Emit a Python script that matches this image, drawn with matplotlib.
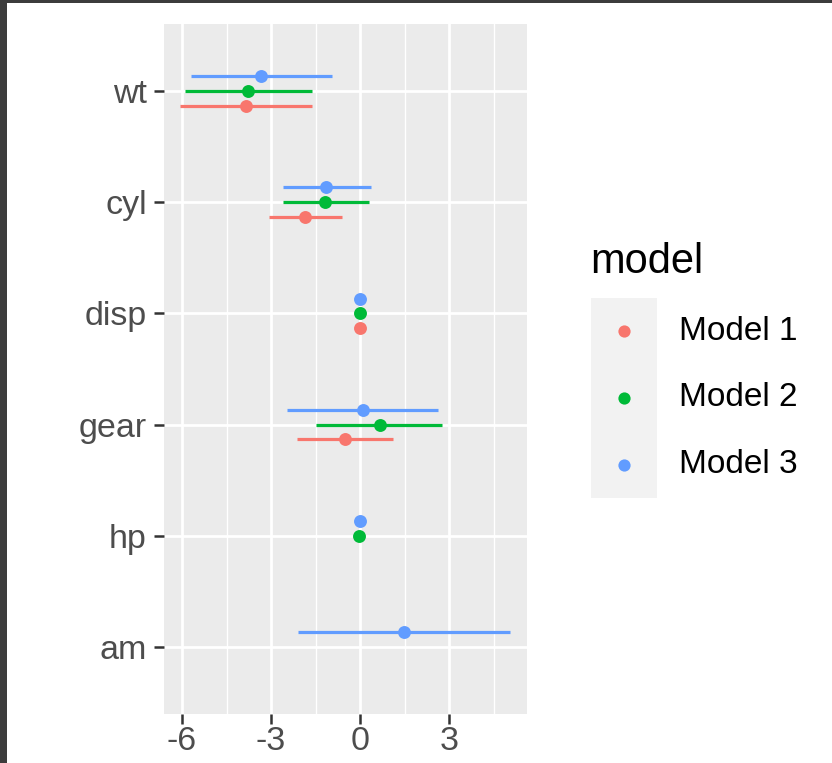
import numpy as np
import matplotlib
matplotlib.use("Agg")
import matplotlib.pyplot as plt
from matplotlib.patches import Rectangle

# ---- data ----
terms = ["wt", "cyl", "disp", "gear", "hp", "am"]
models = ["Model 1", "Model 2", "Model 3"]
colors = ["#F8766D", "#00BA38", "#619CFF"]

m1_est = [-3.85, -1.85, 0.005, -0.51, np.nan, np.nan]
m1_lo = [-6.05, -3.08, -0.01, -2.14, np.nan, np.nan]
m1_hi = [-1.63, -0.60, 0.02, 1.10, np.nan, np.nan]

m2_est = [-3.77, -1.20, 0.01, 0.67, -0.03, np.nan]
m2_lo = [-5.89, -2.61, -0.01, -1.48, -0.05, np.nan]
m2_hi = [-1.63, 0.31, 0.03, 2.77, -0.01, np.nan]

m3_est = [-3.35, -1.15, 0.01, 0.10, -0.02, 1.48]
m3_lo = [-5.70, -2.61, -0.01, -2.45, -0.04, -2.09]
m3_hi = [-0.94, 0.35, 0.03, 2.63, 0.00, 5.06]

ests = [m1_est, m2_est, m3_est]
los = [m1_lo, m2_lo, m3_lo]
his = [m1_hi, m2_hi, m3_hi]

plt.rcParams['font.family'] = ['Liberation Sans', 'DejaVu Sans']

W, H = 832, 763
fig = plt.figure(figsize=(W / 100, H / 100), dpi=100)

def fx(px):
    return px / W

def fy(py):
    return 1 - py / H

# panel
left, right, top, bottom = 164, 527, 24, 714
ax = fig.add_axes([fx(left), fy(bottom), fx(right) - fx(left), fy(top) - fy(bottom)])
ax.set_facecolor("#EBEBEB")
for s in ax.spines.values():
    s.set_visible(False)

n = len(terms)
ypos = np.arange(n)[::-1] + 1.0  # wt on top
offsets = [-0.133, 0.0, 0.133]

for k in range(3):
    e = np.array(ests[k], dtype=float)
    lo = np.array(los[k], dtype=float)
    hi = np.array(his[k], dtype=float)
    y = ypos + offsets[k]
    ok = ~np.isnan(e)
    ax.hlines(y[ok], lo[ok], hi[ok], color=colors[k], lw=2.3, zorder=3)
    ax.plot(e[ok], y[ok], 'o', color=colors[k], ms=9.3, mec='none', zorder=4)

xmin, xmax = -6.05, 5.06
pad = (xmax - xmin) * 0.05
ax.set_xlim(xmin - pad, xmax + pad)
ax.set_ylim(0.4, n + 0.6)

ax.set_xticks([-6, -3, 0, 3])
ax.set_xticklabels(["-6", "-3", "0", "3"])
ax.set_xticks([-4.5, -1.5, 1.5, 4.5], minor=True)
ax.set_yticks(ypos)
ax.set_yticklabels(terms)

ax.grid(True, which='major', color='white', lw=2.0, zorder=1)
ax.grid(True, which='minor', axis='x', color='white', lw=1.0, zorder=1)
ax.set_axisbelow(True)

ax.tick_params(axis='both', which='major', length=7.5, width=1.8, color='#333333',
               labelsize=24.5, labelcolor='#4D4D4D')
ax.tick_params(axis='y', which='major', pad=5)
ax.tick_params(axis='x', which='major', pad=1.5)
ax.tick_params(axis='both', which='minor', length=0)

# ---- legend (manual, ggplot style) ----
fig.text(fx(590), fy(262), "model", fontsize=30, color='black', ha='left', va='center')
key_top, key_bot = 298, 498
fig.patches.append(Rectangle((fx(591), fy(key_bot)), fx(657) - fx(591), fy(key_top) - fy(key_bot),
                             transform=fig.transFigure, facecolor='#F2F2F2', edgecolor='none'))
key_h = (key_bot - key_top) / 3
for k in range(3):
    cy = key_top + key_h * (k + 0.5)
    fig.lines.append(plt.Line2D([fx(624)], [fy(cy)], marker='o', color=colors[k], ms=8.8,
                                mec='none', transform=fig.transFigure))
    fig.text(fx(679), fy(cy), models[k], fontsize=24, color='black', ha='left', va='center')

# screenshot frame
fig.patches.append(Rectangle((0, fy(3)), 1, fy(0) - fy(3), transform=fig.transFigure,
                             facecolor='#3C3C3C', edgecolor='none'))
fig.patches.append(Rectangle((0, 0), fx(7), 1, transform=fig.transFigure,
                             facecolor='#3C3C3C', edgecolor='none'))

fig.savefig("out.png", dpi=100, facecolor='white')
